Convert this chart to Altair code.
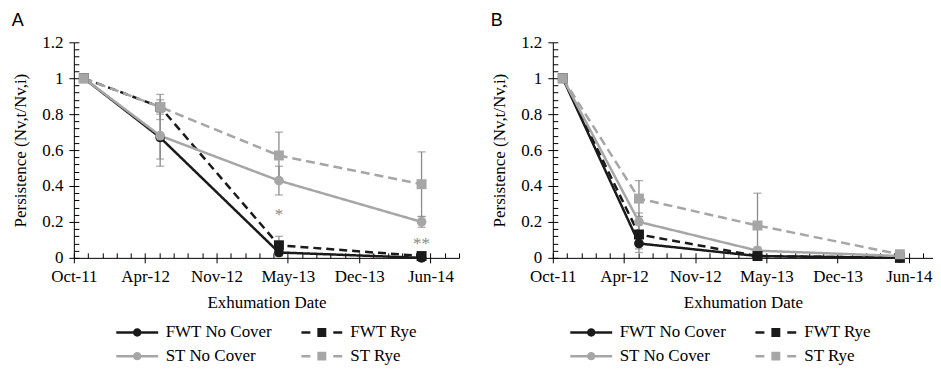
import altair as alt
import pandas as pd

# ---------------- data ----------------
series_names = ["FWT No Cover", "FWT Rye", "ST No Cover", "ST Rye"]
series_colors = ["#1a1a1a", "#1a1a1a", "#a6a6a6", "#a6a6a6"]
series_dash = [[1, 0], [8, 5], [1, 0], [9, 5]]
circle_series = ["FWT No Cover", "ST No Cover"]
square_series = ["FWT Rye", "ST Rye"]
legend_order = [0, 2, 1, 3]  # legend fills column by column

# exhumation dates as days after 1 Oct 2011
days = [28, 242, 575, 975]
tick_days = [0, 200, 400, 600, 800, 1000]
tick_labels = ["Oct-11", "Apr-12", "Nov-12", "May-13", "Dec-13", "Jun-14"]
y_ticks = [0, 0.2, 0.4, 0.6, 0.8, 1.0, 1.2]

# Panel A
a_fwt_nc = [1.0, 0.67, 0.03, 0.0]
a_fwt_rye = [1.0, 0.84, 0.07, 0.01]
a_st_nc = [1.0, 0.68, 0.43, 0.20]
a_st_rye = [1.0, 0.84, 0.57, 0.41]
a_fwt_nc_lo = [None, 0.51, 0.01, None]
a_fwt_nc_hi = [None, 0.83, 0.05, None]
a_fwt_rye_lo = [None, 0.80, 0.02, None]
a_fwt_rye_hi = [None, 0.88, 0.12, None]
a_st_nc_lo = [None, 0.55, 0.35, 0.17]
a_st_nc_hi = [None, 0.81, 0.51, 0.23]
a_st_rye_lo = [None, 0.77, 0.44, 0.23]
a_st_rye_hi = [None, 0.91, 0.70, 0.59]
a_note_text = ["*", "**"]
a_note_day = [575, 975]
a_note_y = [0.26, 0.10]

# Panel B
b_fwt_nc = [1.0, 0.08, 0.01, 0.0]
b_fwt_rye = [1.0, 0.13, 0.01, 0.0]
b_st_nc = [1.0, 0.20, 0.04, 0.01]
b_st_rye = [1.0, 0.33, 0.18, 0.02]
b_fwt_nc_lo = [None, 0.05, None, None]
b_fwt_nc_hi = [None, 0.11, None, None]
b_fwt_rye_lo = [None, 0.03, None, None]
b_fwt_rye_hi = [None, 0.23, None, None]
b_st_nc_lo = [None, 0.15, 0.02, None]
b_st_nc_hi = [None, 0.25, 0.06, None]
b_st_rye_lo = [None, 0.23, 0.0, None]
b_st_rye_hi = [None, 0.43, 0.36, None]

# legend symbol paths (line + marker)
legend_paths = [
    "M-3,-0.18H-0.5V0.18H-3Z M0.5,-0.18H3V0.18H0.5Z M0.6,0A0.6,0.6,0,1,1,-0.6,0A0.6,0.6,0,1,1,0.6,0Z",
    "M-2.92,-0.18H-1.64V0.18H-2.92Z M1.64,-0.18H2.92V0.18H1.64Z M-0.64,-0.64H0.64V0.64H-0.64Z",
    "M-3,-0.18H-0.5V0.18H-3Z M0.5,-0.18H3V0.18H0.5Z M0.6,0A0.6,0.6,0,1,1,-0.6,0A0.6,0.6,0,1,1,0.6,0Z",
    "M-2.92,-0.18H-1.64V0.18H-2.92Z M1.64,-0.18H2.92V0.18H1.64Z M-0.64,-0.64H0.64V0.64H-0.64Z",
]

SERIF = "Liberation Serif"
SANS = "Liberation Sans"
ERR_COLOR = "#8a8a8a"


def make_frames(vals, los, his):
    rows, erows = [], []
    for name, v, lo, hi in zip(series_names, vals, los, his):
        for d, yv, l, h in zip(days, v, lo, hi):
            rows.append({"series": name, "day": d, "value": yv})
            if l is not None:
                erows.append({"series": name, "day": d, "lo": l, "hi": h})
    return pd.DataFrame(rows), pd.DataFrame(erows)


def panel(vals, los, his, notes, title, width, xmax, legend_x, legend_y):
    df, edf = make_frames(vals, los, his)
    x_scale = alt.Scale(domain=[0, xmax], nice=False, zero=False)
    y_scale = alt.Scale(domain=[0, 1.2], nice=False)
    # mark scales (reversed order so that they are kept apart from the legend scales)
    color_scale = alt.Scale(domain=series_names[::-1], range=series_colors[::-1])
    dash_scale = alt.Scale(domain=series_names[::-1], range=series_dash[::-1])
    # legend scales
    leg_names = [series_names[i] for i in legend_order]
    fill_scale = alt.Scale(domain=leg_names, range=[series_colors[i] for i in legend_order])
    shape_scale = alt.Scale(domain=leg_names, range=[legend_paths[i] for i in legend_order])

    arr = "[" + ",".join(f"'{t}'" for t in tick_labels) + "]"
    lab_expr = f"{arr}[indexof({tick_days}, datum.value)]"

    x_main = alt.Axis(orient="bottom", values=tick_days, labelExpr=lab_expr,
                      title="Exhumation Date", grid=False, tickSize=5,
                      labelPadding=6, titlePadding=10, labelFlush=False,
                      labelOverlap=False)
    y_main = alt.Axis(orient="left", values=y_ticks, format=".1~f",
                      title="Persistence (Nv,t/Nv,i)", grid=False, tickSize=5,
                      labelPadding=6, titlePadding=12, labelFlush=False,
                      labelOverlap=False)
    x_minor = list(range(0, xmax + 1, 40))
    y_minor = [round(i * 0.04, 2) for i in range(31)]
    x_inner = alt.Axis(orient="bottom", values=x_minor, labels=False, domain=False,
                       title=None, grid=False, tickSize=5, offset=-5)
    y_inner = alt.Axis(orient="left", values=y_minor, labels=False, domain=False,
                       title=None, grid=False, tickSize=5, offset=-5)

    err_rule = alt.Chart(edf).mark_rule(color=ERR_COLOR, strokeWidth=1.3).encode(
        x=alt.X("day:Q", scale=x_scale, axis=x_inner),
        y=alt.Y("lo:Q", scale=y_scale, axis=y_inner),
        y2="hi:Q",
    )
    cap_lo = alt.Chart(edf).mark_tick(color=ERR_COLOR, orient="horizontal", size=8, thickness=1.3).encode(
        x=alt.X("day:Q", scale=x_scale, axis=None),
        y=alt.Y("lo:Q", scale=y_scale, axis=None),
    )
    cap_hi = alt.Chart(edf).mark_tick(color=ERR_COLOR, orient="horizontal", size=8, thickness=1.3).encode(
        x=alt.X("day:Q", scale=x_scale, axis=None),
        y=alt.Y("hi:Q", scale=y_scale, axis=None),
    )
    lines = alt.Chart(df).mark_line(strokeWidth=2.5).encode(
        x=alt.X("day:Q", scale=x_scale, axis=x_main),
        y=alt.Y("value:Q", scale=y_scale, axis=y_main),
        color=alt.Color("series:N", scale=color_scale, legend=None),
        strokeDash=alt.StrokeDash("series:N", scale=dash_scale, legend=None),
        order=alt.Order("day:Q"),
    )
    circles = alt.Chart(df).transform_filter(
        alt.FieldOneOfPredicate(field="series", oneOf=circle_series)
    ).mark_point(filled=True, shape="circle", size=95, opacity=1).encode(
        x=alt.X("day:Q", scale=x_scale, axis=None),
        y=alt.Y("value:Q", scale=y_scale, axis=None),
        color=alt.Color("series:N", scale=color_scale, legend=None),
    )
    squares = alt.Chart(df).transform_filter(
        alt.FieldOneOfPredicate(field="series", oneOf=square_series)
    ).mark_point(filled=True, shape="square", size=100, opacity=1).encode(
        x=alt.X("day:Q", scale=x_scale, axis=None),
        y=alt.Y("value:Q", scale=y_scale, axis=None),
        color=alt.Color("series:N", scale=color_scale, legend=None),
    )
    leg = alt.Legend(orient="none", legendX=legend_x, legendY=legend_y, columns=2, title=None,
                     labelFont=SERIF, labelFontSize=17, labelColor="black",
                     symbolSize=196, labelOffset=20, rowPadding=6, columnPadding=29,
                     padding=0, symbolStrokeWidth=0, symbolOpacity=1)
    legend_layer = alt.Chart(df).transform_filter("false").mark_point(
        filled=True, size=196, opacity=1
    ).encode(
        x=alt.X("day:Q", scale=x_scale, axis=None),
        y=alt.Y("value:Q", scale=y_scale, axis=None),
        fill=alt.Fill("series:N", scale=fill_scale, legend=leg),
        shape=alt.Shape("series:N", scale=shape_scale, legend=leg),
    )
    layers = [legend_layer, err_rule, cap_lo, cap_hi, lines, circles, squares]
    if notes is not None:
        ndf = pd.DataFrame({"day": notes[1], "y": notes[2], "txt": notes[0]})
        layers.append(
            alt.Chart(ndf).mark_text(font=SERIF, fontSize=17, color="#888888", baseline="middle", dy=4).encode(
                x=alt.X("day:Q", scale=x_scale, axis=None),
                y=alt.Y("y:Q", scale=y_scale, axis=None),
                text="txt:N",
            )
        )
    return alt.layer(*layers).resolve_axis(x="independent", y="independent").properties(
        width=width, height=216,
        title=alt.TitleParams(title, anchor="start", frame="bounds", font=SANS,
                              fontSize=18, fontWeight="normal", color="black", offset=3),
    )


pa = panel(
    [a_fwt_nc, a_fwt_rye, a_st_nc, a_st_rye],
    [a_fwt_nc_lo, a_fwt_rye_lo, a_st_nc_lo, a_st_rye_lo],
    [a_fwt_nc_hi, a_fwt_rye_hi, a_st_nc_hi, a_st_rye_hi],
    (a_note_text, a_note_day, a_note_y), "A", 386, 1080, 55, 282,
)
pb = panel(
    [b_fwt_nc, b_fwt_rye, b_st_nc, b_st_rye],
    [b_fwt_nc_lo, b_fwt_rye_lo, b_st_nc_lo, b_st_rye_lo],
    [b_fwt_nc_hi, b_fwt_rye_hi, b_st_nc_hi, b_st_rye_hi],
    None, "B", 381, 1068, 30, 282,
)

chart = alt.hconcat(pa, pb, spacing=30).resolve_scale(
    color="independent", fill="independent", shape="independent",
    strokeDash="independent", x="independent", y="independent",
).properties(
    padding={"left": 3, "top": 4, "right": 0, "bottom": 0},
    background="white",
).configure_view(stroke=None).configure_axis(
    labelFont=SERIF, labelFontSize=17, labelColor="black",
    titleFont=SERIF, titleFontSize=17, titleFontWeight="normal", titleColor="black",
    domainColor="black", tickColor="black", domainWidth=1, tickWidth=1,
)

chart.save("out.html", embed_options={"renderer": "svg", "actions": False})
